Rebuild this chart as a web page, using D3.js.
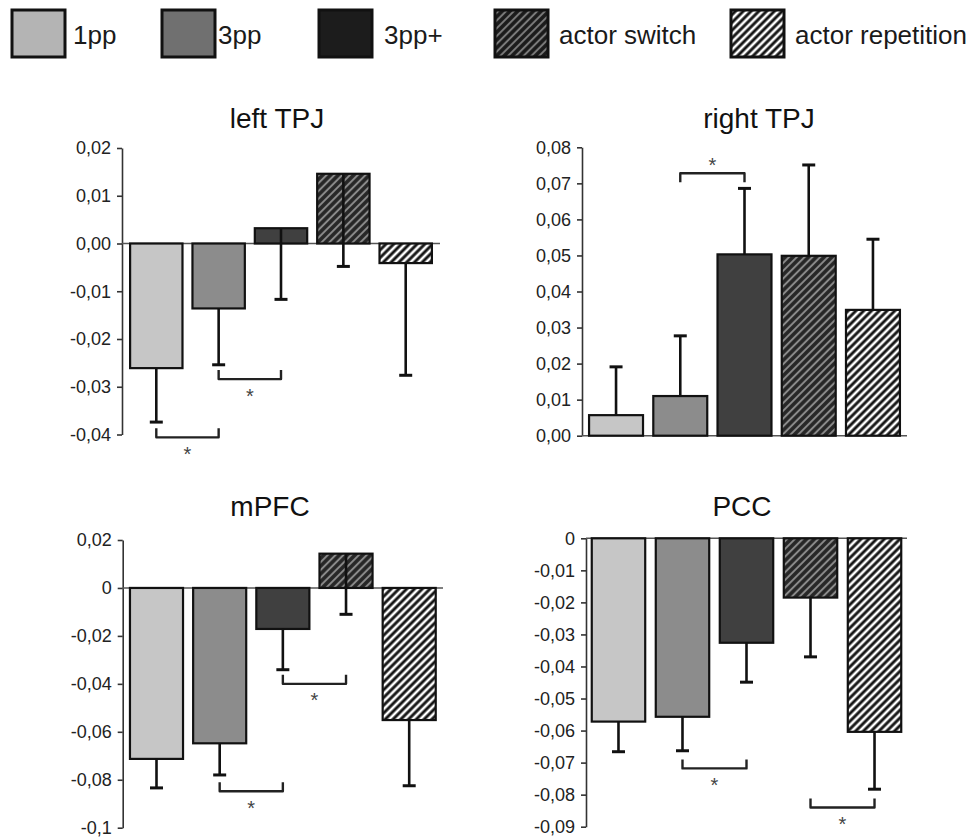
<!DOCTYPE html>
<html><head><meta charset="utf-8">
<script src="https://cdn.jsdelivr.net/npm/d3@7"></script>
<style>
body{margin:0;background:#fff}
svg text{font-family:"Liberation Sans",Arial,Helvetica,sans-serif}
</style>
</head><body>
<svg id="chart" width="977" height="838"></svg>
<script>
// ---------- DATA ----------
const categories = ["1pp", "3pp", "3pp+", "actor switch", "actor repetition"];

const leftTPJValues = [-0.0261, -0.0136, 0.0032, 0.0146, -0.0041];
const leftTPJErrors = [0.0113, 0.0118, 0.0149, 0.0194, 0.0235];
const leftTPJTicks = [0.02, 0.01, 0, -0.01, -0.02, -0.03, -0.04];
const leftTPJTickLabels = ["0,02", "0,01", "0,00", "-0,01", "-0,02", "-0,03", "-0,04"];
const leftTPJBrackets = [{from: 0, to: 1, y: -0.0406}, {from: 1, to: 2, y: -0.0284}];

const rightTPJValues = [0.0057, 0.0110, 0.0503, 0.0499, 0.0349];
const rightTPJErrors = [0.0134, 0.0167, 0.0183, 0.0252, 0.0196];
const rightTPJTicks = [0.08, 0.07, 0.06, 0.05, 0.04, 0.03, 0.02, 0.01, 0];
const rightTPJTickLabels = ["0,08", "0,07", "0,06", "0,05", "0,04", "0,03", "0,02", "0,01", "0,00"];
const rightTPJBrackets = [{from: 1, to: 2, y: 0.0728}];

const mPFCValues = [-0.0713, -0.0648, -0.0171, 0.0143, -0.0551];
const mPFCErrors = [0.0121, 0.0132, 0.0170, 0.0253, 0.0274];
const mPFCTicks = [0.02, 0, -0.02, -0.04, -0.06, -0.08, -0.1];
const mPFCTickLabels = ["0,02", "0", "-0,02", "-0,04", "-0,06", "-0,08", "-0,1"];
const mPFCBrackets = [{from: 1, to: 2, y: -0.0848}, {from: 2, to: 3, y: -0.0400}];

const PCCValues = [-0.0572, -0.0557, -0.0326, -0.0185, -0.0604];
const PCCErrors = [0.0094, 0.0106, 0.0123, 0.0185, 0.0179];
const PCCTicks = [0, -0.01, -0.02, -0.03, -0.04, -0.05, -0.06, -0.07, -0.08, -0.09];
const PCCTickLabels = ["0", "-0,01", "-0,02", "-0,03", "-0,04", "-0,05", "-0,06", "-0,07", "-0,08", "-0,09"];
const PCCBrackets = [{from: 1, to: 2, y: -0.0718}, {from: 3, to: 4, y: -0.0840}];

// ---------- STYLE / LAYOUT ----------
const barFills = ["#c6c6c6", "#8c8c8c", "#404040", "url(#hatchSwitch)", "url(#hatchRep)"];
const legendFills = ["#b4b4b4", "#707070", "#1c1c1c", "url(#hatchSwitchL)", "url(#hatchRepL)"];
const legendX = [12, 162, 319, 495, 731];
const legendTextX = [73, 218, 384, 559, 795];

const panels = [
  {title: "left TPJ", values: leftTPJValues, errors: leftTPJErrors, errDir: -1,
   domain: [-0.04, 0.02], ticks: leftTPJTicks, labels: leftTPJTickLabels, brackets: leftTPJBrackets,
   L: {ax: 122, x1: 440, yTop: 148, yBot: 434.5, pi: 0.16, po: 0.13, tx: 277, ty: 128}},
  {title: "right TPJ", values: rightTPJValues, errors: rightTPJErrors, errDir: 1,
   domain: [0, 0.08], ticks: rightTPJTicks, labels: rightTPJTickLabels, brackets: rightTPJBrackets,
   L: {ax: 582, x1: 907, yTop: 147.3, yBot: 435.7, pi: 0.16, po: 0.11, tx: 759, ty: 128}},
  {title: "mPFC", values: mPFCValues, errors: mPFCErrors, errDir: -1,
   domain: [-0.1, 0.02], ticks: mPFCTicks, labels: mPFCTickLabels, brackets: mPFCBrackets,
   L: {ax: 122.7, x1: 443, yTop: 540, yBot: 827.7, pi: 0.16, po: 0.115, tx: 270, ty: 516}},
  {title: "PCC", values: PCCValues, errors: PCCErrors, errDir: -1,
   domain: [-0.09, 0], ticks: PCCTicks, labels: PCCTickLabels, brackets: PCCBrackets,
   L: {ax: 586, x1: 907, yTop: 538.3, yBot: 826.7, pi: 0.165, po: 0.09, tx: 742, ty: 516}}
];

// ---------- DRAW ----------
const svg = d3.select("#chart");
const defs = svg.append("defs");
function hatch(id, bg, fg, w) {
  const p = defs.append("pattern").attr("id", id).attr("patternUnits", "userSpaceOnUse")
    .attr("width", 5.5).attr("height", 5.5).attr("patternTransform", "rotate(45)");
  p.append("rect").attr("width", 5.5).attr("height", 5.5).attr("fill", bg);
  p.append("line").attr("x1", 2.75).attr("x2", 2.75).attr("y1", 0).attr("y2", 5.5)
    .attr("stroke", fg).attr("stroke-width", w);
}
hatch("hatchSwitch", "#262626", "#8a8a8a", 2);
hatch("hatchRep", "#151515", "#ffffff", 2.6);
hatch("hatchSwitchL", "#1a1a1a", "#7a7a7a", 2);
hatch("hatchRepL", "#151515", "#ffffff", 2.6);

// legend
const leg = svg.append("g");
categories.forEach((c, i) => {
  leg.append("rect").attr("x", legendX[i]).attr("y", 10).attr("width", 53).attr("height", 47)
    .attr("fill", legendFills[i]).attr("stroke", "#111").attr("stroke-width", 3);
  leg.append("text").attr("x", legendTextX[i]).attr("y", 44).attr("font-size", 26)
    .attr("fill", "#1a1a1a").text(c);
});

panels.forEach(p => {
  const L = p.L;
  const g = svg.append("g");
  const x = d3.scaleBand().domain(categories).range([L.ax, L.x1])
    .paddingInner(L.pi).paddingOuter(L.po);
  const y = d3.scaleLinear().domain(p.domain).range([L.yBot, L.yTop]);

  // title
  g.append("text").attr("x", L.tx).attr("y", L.ty).attr("text-anchor", "middle")
    .attr("font-size", 28).attr("fill", "#111").text(p.title);

  // axis
  const axis = d3.axisLeft(y).tickValues(p.ticks).tickFormat((d, i) => p.labels[i])
    .tickSize(5).tickSizeOuter(0).tickPadding(6);
  const ag = g.append("g").attr("transform", `translate(${L.ax},0)`).call(axis);
  ag.select(".domain").attr("stroke", "#333").attr("stroke-width", 1.6);
  ag.selectAll(".tick line").attr("stroke", "#333").attr("stroke-width", 1.6);
  ag.selectAll(".tick text").attr("font-size", 18).attr("fill", "#222")
    .style("font-family", '"Liberation Sans",Arial,sans-serif');

  // zero line
  g.append("line").attr("x1", L.ax).attr("x2", x.range()[1]).attr("y1", y(0)).attr("y2", y(0))
    .attr("stroke", "#555").attr("stroke-width", 1.6);

  // bars
  g.selectAll("rect.bar").data(p.values).join("rect").attr("class", "bar")
    .attr("x", (d, i) => x(categories[i]))
    .attr("width", x.bandwidth())
    .attr("y", d => Math.min(y(d), y(0)))
    .attr("height", d => Math.abs(y(d) - y(0)))
    .attr("fill", (d, i) => barFills[i])
    .attr("stroke", "#111").attr("stroke-width", 2.2);

  // error bars
  p.values.forEach((v, i) => {
    const cx = x(categories[i]) + x.bandwidth() / 2;
    const end = v + p.errDir * p.errors[i];
    g.append("line").attr("x1", cx).attr("x2", cx).attr("y1", y(v)).attr("y2", y(end))
      .attr("stroke", "#111").attr("stroke-width", 2.6);
    g.append("line").attr("x1", cx - 6.5).attr("x2", cx + 6.5).attr("y1", y(end)).attr("y2", y(end))
      .attr("stroke", "#111").attr("stroke-width", 3);
  });

  // significance brackets
  p.brackets.forEach(b => {
    const xa = x(categories[b.from]) + x.bandwidth() / 2;
    const xb = x(categories[b.to]) + x.bandwidth() / 2;
    const yb = y(b.y);
    const arm = yb + p.errDir * 9;
    g.append("path").attr("d", `M${xa},${arm}L${xa},${yb}L${xb},${yb}L${xb},${arm}`)
      .attr("fill", "none").attr("stroke", "#222").attr("stroke-width", 2.4)
      .attr("stroke-linejoin", "round");
    const sy = yb - p.errDir * 12.5;
    g.append("text").attr("x", (xa + xb) / 2).attr("y", sy + 11).attr("text-anchor", "middle")
      .attr("font-size", 20).attr("fill", "#444").text("*");
  });
});
</script>
</body></html>
